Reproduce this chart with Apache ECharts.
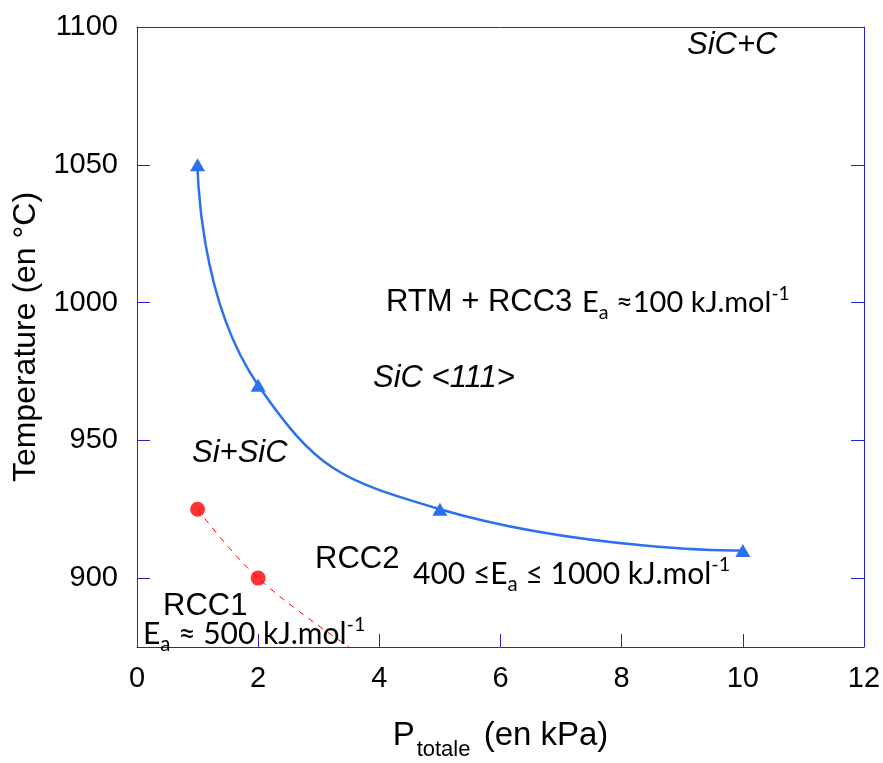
<!DOCTYPE html>
<html><head><meta charset="utf-8">
<script src="https://cdn.jsdelivr.net/npm/echarts@6/dist/echarts.min.js"></script>
<style>html,body{margin:0;padding:0;background:#fff}#c{width:883px;height:763px}</style>
</head><body><div id="c"></div>
<script>
// Data
const blueP = [1, 2, 5, 10];
const blueT = [1050, 970, 925, 910];
const redP = [1, 2];
const redT = [925, 900];
const redFitP = [1, 2, 3.5];
const redFitT = [925, 900, 875];
const yTickValues = [900, 950, 1000, 1050, 1100];
const xTitle = ['P', 'totale', ' (en kPa)'];
const yTitle = 'Temperature (en °C)';

const AX = '#2222dd';
const BLUE = '#2b70f0';
const ARIAL = '"Liberation Sans", Arial, sans-serif';
const CAL = 'Lato, "Open Sans", sans-serif';

const chart = echarts.init(document.getElementById('c'));

function ea(fs, pre, post) {
  const d = Math.round(fs * 0.34);
  const u = Math.round(fs * 0.3);
  return {
    text: pre + '{n|E}{sub|a}{n|' + post + '}{sup|-1}',
    rich: {
      n: {fontFamily: CAL, fontSize: fs, lineHeight: fs, fill: '#000', verticalAlign: 'middle'},
      sub: {fontFamily: CAL, fontSize: fs * 0.68, lineHeight: fs * 0.7, fill: '#000', verticalAlign: 'middle', padding: [2 * d, 0, 0, 0]},
      sup: {fontFamily: CAL, fontSize: fs * 0.66, lineHeight: fs * 0.7, fill: '#000', verticalAlign: 'middle', padding: [0, 0, 2 * u, 0]}
    }
  };
}
function lbl(x, y, text, fs, italic) {
  return {type: 'text', left: x, top: y, z: 10,
    style: {text: text, fontFamily: ARIAL, fontSize: fs, fontStyle: italic ? 'italic' : 'normal', fill: '#000'}};
}
function eaLbl(x, y, fs, pre, post) {
  const s = ea(fs, pre, post);
  return {type: 'text', left: x, top: y, z: 10, style: {text: s.text, rich: s.rich, fontFamily: CAL, fontSize: fs, fill: '#000'}};
}

const option = {
  animation: false,
  backgroundColor: '#fff',
  grid: {left: 137, right: 19, top: 27, bottom: 116, containLabel: false, outerBoundsMode: 'none'},
  xAxis: [{
    type: 'value', position: 'bottom', min: 0, max: 12, interval: 2,
    axisLine: {show: true, onZero: false, lineStyle: {color: AX, width: 1}},
    axisTick: {show: true, inside: true, length: 13, lineStyle: {color: AX, width: 1}},
    axisLabel: {color: '#000', fontSize: 29, fontFamily: ARIAL, margin: 17},
    splitLine: {show: false},
    name: '{p|' + xTitle[0] + '}{s|' + xTitle[1] + '}{p|' + xTitle[2] + '}',
    nameLocation: 'middle', nameGap: 72,
    nameTextStyle: {
      rich: {
        p: {fontFamily: ARIAL, fontSize: 33, lineHeight: 33, color: '#000', verticalAlign: 'middle'},
        s: {fontFamily: ARIAL, fontSize: 22, lineHeight: 22, color: '#000', verticalAlign: 'middle', padding: [28, 4, 0, 2]}
      }
    }
  }, {
    type: 'value', position: 'top', min: 0, max: 12, interval: 2,
    axisLine: {show: true, onZero: false, lineStyle: {color: AX, width: 1}},
    axisTick: {show: false}, axisLabel: {show: false}, splitLine: {show: false}
  }],
  yAxis: [{
    type: 'value', position: 'left', min: 875, max: 1100,
    axisLine: {show: true, onZero: false, lineStyle: {color: AX, width: 1}},
    axisTick: {show: true, inside: true, length: 13, customValues: yTickValues, lineStyle: {color: AX, width: 1}},
    axisLabel: {color: '#000', fontSize: 29, fontFamily: ARIAL, margin: 19, customValues: yTickValues,
      formatter: v => String(v)},
    splitLine: {show: false},
    name: yTitle, nameLocation: 'middle', nameGap: 93,
    nameTextStyle: {fontFamily: ARIAL, fontSize: 32, color: '#000'}
  }, {
    type: 'value', position: 'right', min: 875, max: 1100,
    axisLine: {show: true, onZero: false, lineStyle: {color: AX, width: 1}},
    axisTick: {show: true, inside: true, length: 13, customValues: yTickValues, lineStyle: {color: AX, width: 1}},
    axisLabel: {show: false}, splitLine: {show: false}
  }],
  series: [{
    type: 'line', xAxisIndex: 0, yAxisIndex: 0,
    data: blueP.map((p, i) => [p, blueT[i]]),
    smooth: 0.5, symbol: 'triangle', symbolSize: [15, 13], showSymbol: true,
    lineStyle: {color: BLUE, width: 2.5}, itemStyle: {color: BLUE}, z: 3
  }, {
    type: 'line', xAxisIndex: 0, yAxisIndex: 0,
    data: redFitP.map((p, i) => [p, redFitT[i]]),
    smooth: 0.4, showSymbol: false, symbol: 'none',
    lineStyle: {color: '#ff0000', width: 1, type: [6, 6]}, z: 2
  }, {
    type: 'scatter', xAxisIndex: 0, yAxisIndex: 0,
    data: redP.map((p, i) => [p, redT[i]]),
    symbol: 'circle', symbolSize: 15, itemStyle: {color: '#ff0000'}, z: 4
  }],
  graphic: [
    lbl(687, 30, 'SiC+C', 31, true),
    lbl(386, 287, 'RTM + RCC3', 31, false),
    eaLbl(582, 283, 29, '', ' ≈100 kJ.mol'),
    lbl(373, 363, 'SiC <111>', 31, true),
    lbl(192, 438, 'Si+SiC', 31, true),
    lbl(315, 544, 'RCC2', 31, false),
    eaLbl(413, 554, 30, '{n|400 ≤}', ' ≤ 1000 kJ.mol'),
    lbl(163, 591, 'RCC1', 31, false),
    eaLbl(143, 614, 30, '', ' ≈ 500 kJ.mol')
  ]
};
chart.setOption(option);
</script></body></html>
